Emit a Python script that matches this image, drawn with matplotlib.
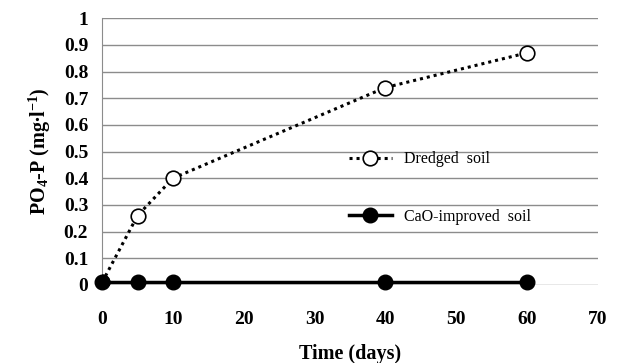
import matplotlib
matplotlib.use("Agg")
import matplotlib.pyplot as plt

# PO4-P release over time
days = [0, 5, 10, 40, 60]
dredged = [0.01, 0.26, 0.40, 0.74, 0.87]
cao_improved = [0.01, 0.01, 0.01, 0.01, 0.01]

xticks = [0, 10, 20, 30, 40, 50, 60, 70]
yticks = [0, 0.1, 0.2, 0.3, 0.4, 0.5, 0.6, 0.7, 0.8, 0.9, 1]

plt.rcParams['font.family'] = ['Liberation Serif', 'DejaVu Serif']
plt.rcParams['mathtext.fontset'] = 'custom'
plt.rcParams['mathtext.rm'] = 'Liberation Serif:bold'
plt.rcParams['mathtext.it'] = 'Liberation Serif:bold'
plt.rcParams['mathtext.bf'] = 'Liberation Serif:bold'

fig = plt.figure(figsize=(6.19, 3.63), dpi=100)
ax = fig.add_axes([0.165, 0.215, 0.801, 0.735])

ax.plot(days, dredged, linestyle=(0, (1, 1.3)), color='black', lw=2.2,
        marker='o', ms=10.5, mfc='white', mec='black', mew=1.2,
        label='Dredged  soil', zorder=3)
ax.plot(days, cao_improved, linestyle='-', color='black', lw=2.5,
        marker='o', ms=10.5, mfc='black', mec='black',
        label='CaO-improved  soil', zorder=3, clip_on=False)

ax.set_xlim(0, 70)
ax.set_ylim(0, 1)
ax.set_xticks(xticks)
ax.set_yticks(yticks)
ax.set_yticklabels(['0', '0.1', '0.2', '0.3', '0.4', '0.5', '0.6', '0.7', '0.8', '0.9', '1'])
ax.tick_params(axis='both', length=0, labelsize=14)
ax.tick_params(axis='x', pad=19)
ax.tick_params(axis='y', pad=10)
for lbl in ax.get_xticklabels() + ax.get_yticklabels():
    lbl.set_fontweight('bold')

ax.grid(axis='y', color='#8c8c8c', lw=1)
ax.set_axisbelow(True)
for s in ['top', 'right', 'bottom']:
    ax.spines[s].set_visible(False)
ax.spines['left'].set_color('#8c8c8c')

ax.set_xlabel('Time (days)', fontsize=14.5, fontweight='bold', labelpad=11)
ax.set_ylabel(r'PO$_4$-P (mg$\bullet$l$^{-1}$)', fontsize=14.5, fontweight='bold', labelpad=8)

ax.legend(loc='upper left', bbox_to_anchor=(0.468, 0.555), frameon=False,
          fontsize=11.5, labelspacing=2.6, handlelength=2.7, handletextpad=0.8)

fig.savefig('out.png', dpi=100)
